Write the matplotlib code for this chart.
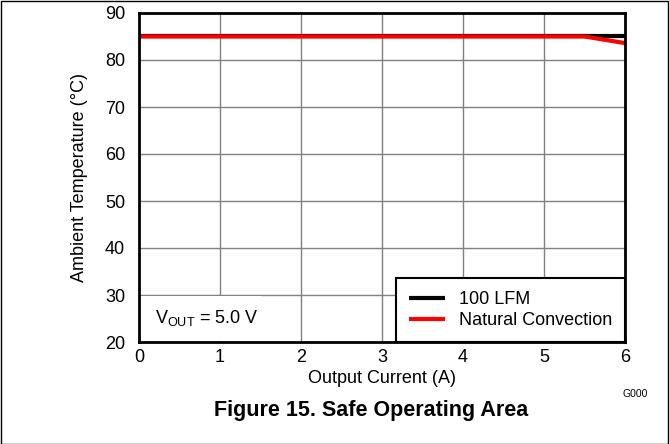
import matplotlib.pyplot as plt
from matplotlib.patches import Rectangle

plt.rcParams['font.family'] = ['Liberation Sans', 'DejaVu Sans']

# Datos
current_lfm = [0, 6]
temp_lfm = [85, 85]
current_nat = [0, 5.5, 6]
temp_nat = [85, 85, 83.6]

x_ticks = [0, 1, 2, 3, 4, 5, 6]
y_ticks = [20, 30, 40, 50, 60, 70, 80, 90]

fig = plt.figure(figsize=(6.69, 4.44), dpi=100)
ax = fig.add_axes([139 / 669, 1 - 342 / 444, 486 / 669, 329 / 444])

ax.plot(current_lfm, temp_lfm, color="black", lw=3, label="100 LFM", solid_capstyle="butt")
ax.plot(current_nat, temp_nat, color="red", lw=3, label="Natural Convection", solid_capstyle="butt")

ax.set_xlim(0, 6)
ax.set_ylim(20, 90)
ax.set_xticks(x_ticks)
ax.set_yticks(y_ticks)
ax.tick_params(length=0, labelsize=13)
ax.tick_params(axis="y", pad=10)
ax.tick_params(axis="x", pad=5)
ax.grid(True, color="#808080", lw=1)
for s in ax.spines.values():
    s.set_linewidth(2)

ax.set_xlabel("Output Current (A)", fontsize=13, labelpad=3)
ax.set_ylabel("Ambient Temperature (°C)", fontsize=13, labelpad=12)

# caja blanca que tapa la rejilla detrás del texto
ax.add_patch(Rectangle((0.02, 20.2), 1.5, 9.6, facecolor="white", edgecolor="none", zorder=2))
ax.text(0.2, 25.1, r"V$_{\mathregular{OUT}}$ = 5.0 V", fontsize=13, va="center", zorder=3)

leg = ax.legend(loc="lower right", borderaxespad=0, fontsize=13, fancybox=False,
                edgecolor="black", framealpha=1, handlelength=2.0, borderpad=0.7,
                labelspacing=0.25, handletextpad=0.8)
leg.get_frame().set_linewidth(1.5)

fig.text(635 / 669, 1 - 397 / 444, "G000", fontsize=7.5, ha="center")
fig.text(371 / 669, 1 - 416 / 444, "Figure 15. Safe Operating Area", fontsize=15.5,
         fontweight="bold", ha="center")

fig.add_artist(Rectangle((0.001, 0.001), 0.998, 0.997, transform=fig.transFigure,
                         fill=False, edgecolor="black", lw=1))

plt.savefig("out.png", dpi=100)
